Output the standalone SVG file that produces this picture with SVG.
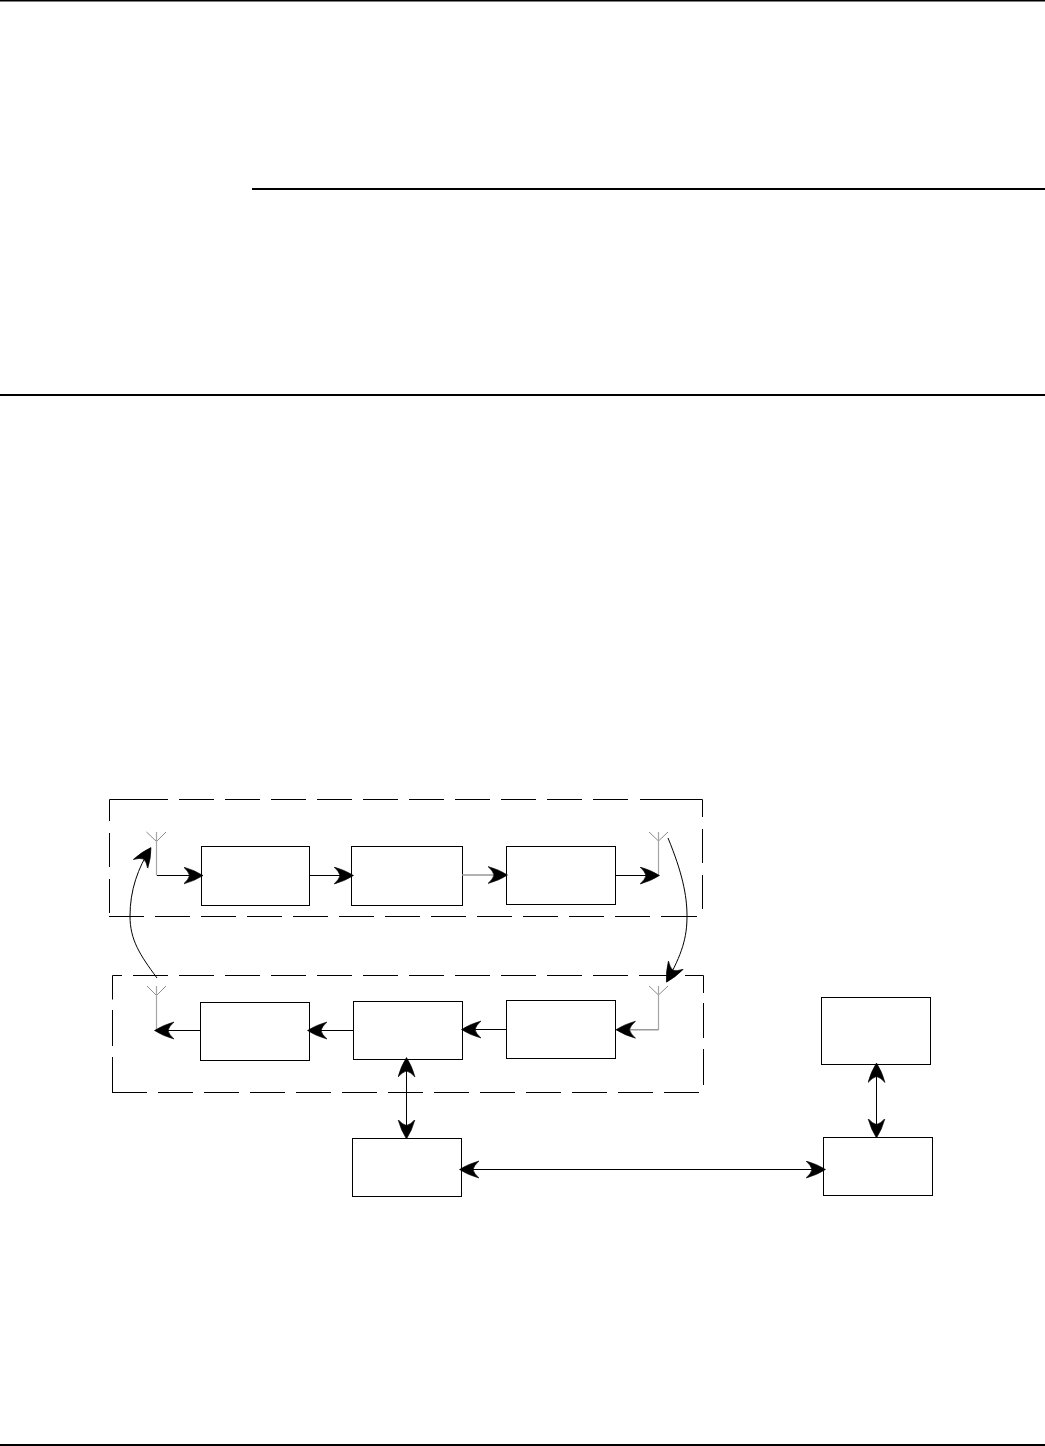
<svg xmlns="http://www.w3.org/2000/svg" width="1045" height="1446" viewBox="0 0 1045 1446">
<style>
.box{fill:#fff;stroke:#000;stroke-width:1}
.frame{fill:none;stroke:#000;stroke-width:1}
.rule{fill:none;stroke:#000;stroke-width:2}
.ant{fill:none;stroke:#8c8c8c;stroke-width:1}
.stem{fill:none;stroke:#a6a6a6;stroke-width:1.2}
.wire{fill:none;stroke:#000;stroke-width:1}
.gray{fill:none;stroke:#999;stroke-width:1.5}
.end{marker-end:url(#head)}
.both{marker-start:url(#head);marker-end:url(#head)}
</style>
<defs>
<marker id="head" markerUnits="userSpaceOnUse" markerWidth="21" markerHeight="20" refX="19" refY="9" orient="auto-start-reverse">
<path d="M0,0.5 Q11,3.5 19.5,9 Q11,14.5 0,17.5 Q5,13 6,9 Q5,5 0,0.5 Z" fill="#000" stroke="#000" stroke-width="0.6"/>
</marker>
</defs>
<rect width="1045" height="1446" fill="#fff"/>
<g id="page-rules">
<path class="rule" d="M0,0.5H1045"/>
<path class="rule" d="M252,189H1045"/>
<path class="rule" d="M0,395H1045"/>
<path class="rule" d="M0,1445H1045"/>
</g>
<g id="frame-top">
<path class="frame" d="M109.5,799.5H168M179,799.5H214M225,799.5H260M271,799.5H306M317,799.5H352M363,799.5H398M409,799.5H444M455,799.5H490M501,799.5H536M547,799.5H582M593,799.5H628M640,799.5H702.5
M109.5,799.5V821M109.5,833V867M109.5,879V913
M702.5,799.5V817M702.5,829V863M702.5,875V909
M109,916.5H144M155,916.5H190M201,916.5H236M247,916.5H282M293,916.5H328M339,916.5H374M385,916.5H420M431,916.5H466M477,916.5H512M523,916.5H558M569,916.5H604M615,916.5H650M661,916.5H697"/>
</g>
<g id="frame-bottom">
<path class="frame" d="M112.5,975.5H122M133,975.5H168M179,975.5H214M225,975.5H260M271,975.5H306M317,975.5H352M363,975.5H398M409,975.5H444M455,975.5H490M501,975.5H536M547,975.5H582M593,975.5H628M639,975.5H674M685,975.5H703.5
M112.5,975.5V999.5M112.5,1010V1046M112.5,1057V1092.5
M703.5,975.5V993M703.5,1003V1038M703.5,1049V1085
M112,1092.5H147M158,1092.5H193M204,1092.5H239M250,1092.5H285M296,1092.5H331M342,1092.5H377M388,1092.5H423M434,1092.5H469M480,1092.5H515M526,1092.5H561M572,1092.5H607M618,1092.5H653M664,1092.5H699"/>
</g>
<g id="antenna-top-left"><path class="ant" d="M146.5,832L156.5,841.5L166,832"/><path class="stem" d="M156.5,832V875.5"/></g>
<g id="antenna-top-right"><path class="ant" d="M649,832L658.5,841L668,832"/><path class="stem" d="M658.5,832V875.5"/></g>
<g id="antenna-bottom-left"><path class="ant" d="M147,986L156.5,995.5L166,986"/><path class="stem" d="M156.5,986V1030"/></g>
<g id="antenna-bottom-right"><path class="ant" d="M649,986L658.5,995L668,986"/><path class="stem" d="M658.5,986V1030"/></g>
<g id="box-top-1"><rect class="box" x="201.5" y="846.5" width="108" height="59"/></g>
<g id="box-top-2"><rect class="box" x="351.5" y="846.5" width="111" height="59"/></g>
<g id="box-top-3"><rect class="box" x="506.5" y="846.5" width="109" height="58"/></g>
<g id="box-bottom-1"><rect class="box" x="200.5" y="1002.5" width="109" height="58"/></g>
<g id="box-bottom-2"><rect class="box" x="353.5" y="1001.5" width="109" height="58"/></g>
<g id="box-bottom-3"><rect class="box" x="506.5" y="1000.5" width="109" height="58"/></g>
<g id="box-lower-middle"><rect class="box" x="352.5" y="1138.5" width="109" height="58"/></g>
<g id="box-right-top"><rect class="box" x="821.5" y="997.5" width="109" height="67"/></g>
<g id="box-right-bottom"><rect class="box" x="823.5" y="1137.5" width="109" height="58"/></g>
<g id="connectors">
<path class="wire end" d="M157,875.5H202.5"/>
<path class="wire end" d="M309.5,875.5H353"/>
<path class="gray end" d="M462,875H507"/>
<path class="wire end" d="M615,875.5H659"/>
<path class="wire end" d="M668,838C682,872 687,895 687,916C687,938 682,954 666.7,981.7"/>
<path class="wire end" d="M157,978C140,955 130,940 130,916C130,890 138,868 150.7,848"/>
<path class="gray end" d="M658.5,1029.7H616.5"/>
<path class="wire end" d="M506.5,1029.5H462"/>
<path class="wire end" d="M353.5,1030.5H308"/>
<path class="wire end" d="M200.5,1030.5H155"/>
<path class="wire both" d="M406.5,1058V1138.5"/>
<path class="wire both" d="M876.5,1063.5V1137.5"/>
<path class="wire both" d="M460,1169.5H825"/>
</g>
</svg>
